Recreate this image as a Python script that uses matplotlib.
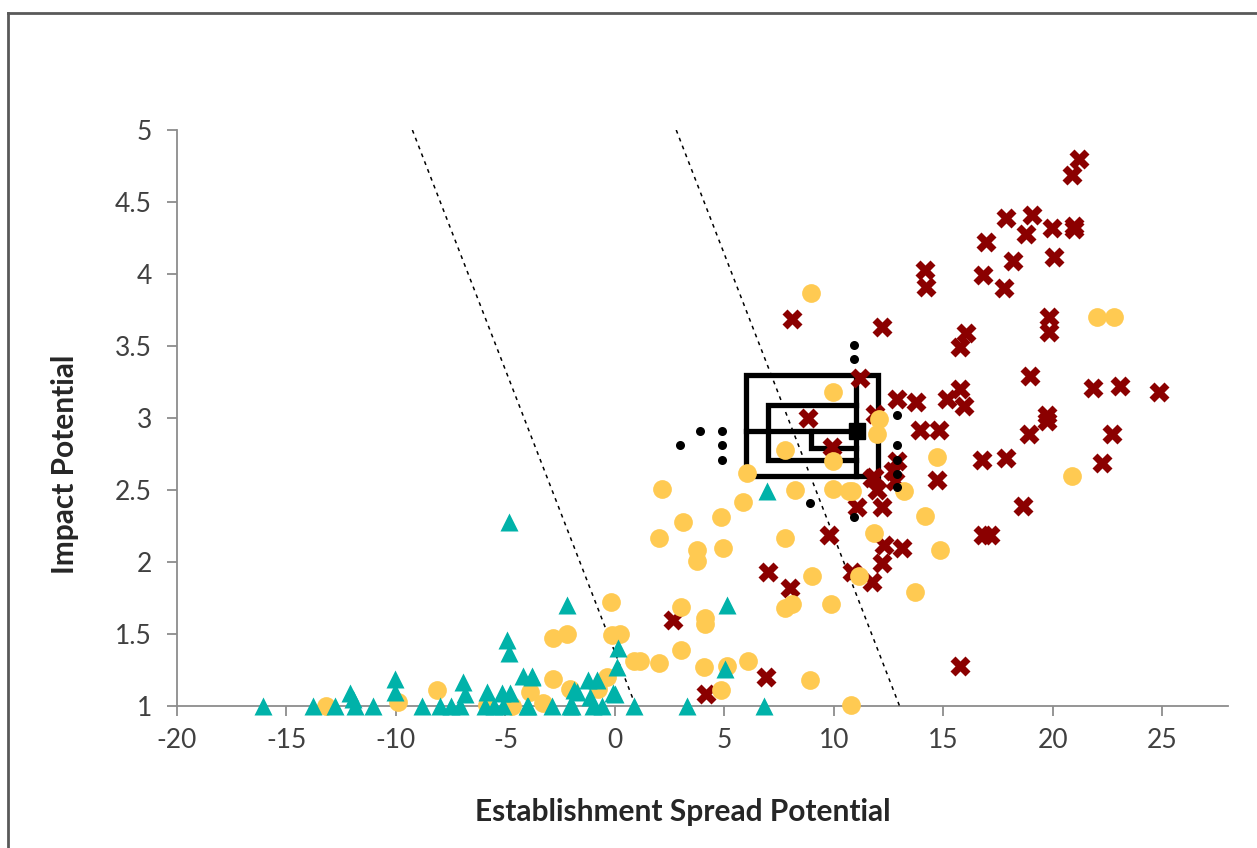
import matplotlib
matplotlib.use("Agg")
import matplotlib.pyplot as plt
from matplotlib.lines import Line2D

plt.rcParams['font.family'] = ['Lato', 'DejaVu Sans']

# ---------------- data ----------------
# red crosses
cross_x = [21.18, 20.87, 17.87, 19.05, 18.79, 19.96, 20.95, 20.95, 16.96, 18.16, 20.07,
           14.17, 14.22, 16.81, 17.78, 12.19, 16.05, 15.77, 19.81, 19.81, 18.97, 21.83,
           23.08, 24.83, 15.77, 15.95, 15.16, 12.88, 13.76, 13.94, 14.78, 19.73, 19.73,
           18.89, 22.70, 22.24, 16.76, 17.87, 14.73, 18.66, 16.81, 17.14, 8.1, 8.84,
           9.91, 11.2, 11.81, 11.89, 12.9, 12.7, 12.8, 11.74, 11.96, 12.19, 11.05, 9.76,
           12.27, 13.11, 12.19, 10.82, 11.74, 6.97, 8.0, 2.67, 6.89, 4.17, 15.77]
cross_y = [4.80, 4.69, 4.39, 4.41, 4.28, 4.32, 4.31, 4.33, 4.22, 4.09, 4.12,
           4.03, 3.91, 3.99, 3.90, 3.63, 3.59, 3.49, 3.70, 3.60, 3.29, 3.21,
           3.22, 3.18, 3.20, 3.08, 3.13, 3.13, 3.11, 2.92, 2.92, 3.02, 2.98,
           2.89, 2.89, 2.69, 2.71, 2.72, 2.57, 2.39, 2.19, 2.19, 3.69, 3.00,
           2.80, 3.28, 2.59, 3.03, 2.70, 2.63, 2.56, 2.58, 2.50, 2.38, 2.38, 2.19,
           2.12, 2.10, 1.99, 1.93, 1.86, 1.93, 1.82, 1.60, 1.20, 1.08, 1.28]

# yellow circles
circle_x = [8.96, 9.98, 7.78, 6.03, 9.98, 11.96, 12.04, 8.23, 9.98, 10.71, 5.87, 4.84,
            3.13, 2.14, 2.03, 3.77, 3.77, 4.93, 7.78, 13.18, 11.81, 14.17, 14.83,
            8.99, 11.17, 13.72, 7.78, 8.08, 9.88, -0.17, 3.03, 4.12, 4.12, -2.84,
            -2.20, -0.14, 0.24, 0.85, 1.15, 2.03, 3.03, 4.05, 5.14, 6.06, 4.84,
            8.89, 10.78, -2.81, -2.05, -3.27, -3.9, -0.37, -13.19, -9.89, -8.14,
            -0.76, -5.85, -4.71, 22.0, 22.78, 14.73, 20.87, 10.82]
circle_y = [3.87, 3.18, 2.78, 2.62, 2.70, 2.89, 2.99, 2.50, 2.51, 2.49, 2.42, 2.31,
            2.28, 2.51, 2.17, 2.08, 2.01, 2.10, 2.17, 2.49, 2.20, 2.32, 2.08,
            1.90, 1.90, 1.79, 1.68, 1.71, 1.71, 1.72, 1.69, 1.61, 1.57, 1.47,
            1.50, 1.49, 1.50, 1.31, 1.31, 1.30, 1.39, 1.27, 1.28, 1.31, 1.11,
            1.18, 1.01, 1.19, 1.12, 1.02, 1.10, 1.20, 1.00, 1.03, 1.11,
            1.12, 1.01, 1.00, 3.70, 3.70, 2.73, 2.60, 2.49]

# teal triangles
tri_x = [-4.86, -4.94, -4.86, -16.08, -13.8, -12.78, -12.1, -11.95, -11.87, -11.03,
         -10.04, -10.04, -8.82, -7.98, -7.5, -6.92, -6.84, -7.07, -5.85, -5.93,
         -5.17, -5.09, -4.79, -4.18, -3.8, -3.95, -2.2, 0.16, 0.09, 0.01, 0.85,
         -0.83, -1.21, -1.74, -1.97, -1.13, -0.98, -2.88, -4.02, 6.94, 5.14, 5.04,
         3.31, 6.79, -0.07, -1.89, -2.05, -3.8, -5.5, -0.6]
tri_y = [2.28, 1.46, 1.37, 1.00, 1.00, 1.00, 1.09, 1.05, 1.00, 1.00,
         1.19, 1.10, 1.00, 1.00, 1.00, 1.17, 1.08, 1.00, 1.10, 1.00,
         1.09, 1.00, 1.09, 1.21, 1.21, 1.00, 1.70, 1.40, 1.27, 1.08, 1.00,
         1.18, 1.18, 1.10, 1.00, 1.06, 1.00, 1.00, 1.00, 2.49, 1.70, 1.26,
         1.00, 1.00, 1.09, 1.11, 1.00, 1.20, 1.00, 1.00]

# black outlier dots
dot_x = [2.95, 3.9, 4.9, 4.9, 4.9, 10.9, 10.9, 12.9, 12.9, 12.9, 12.9, 12.9, 8.9, 10.9]
dot_y = [2.81, 2.91, 2.91, 2.81, 2.71, 3.51, 3.41, 3.02, 2.81, 2.71, 2.61, 2.52, 2.41, 2.31]

# box summary lines
outer_x = [6.0, 12.0]
outer_y = [2.60, 3.30]
inner_x = [7.0, 11.0]
inner_y = [2.71, 3.09]
core_x = [8.95, 11.0]
core_y = [2.79, 2.91]
center_x = [11.05]
center_y = [2.91]

# dashed boundary lines
dash1_x = [-9.25, 0.95]
dash1_y = [5.0, 1.0]
dash2_x = [2.8, 13.0]
dash2_y = [5.0, 1.0]

xticks = [-20, -15, -10, -5, 0, 5, 10, 15, 20, 25]
yticks = [1, 1.5, 2, 2.5, 3, 3.5, 4, 4.5, 5]
ytick_labels = ['1', '1.5', '2', '2.5', '3', '3.5', '4', '4.5', '5']

# ---------------- figure ----------------
fig = plt.figure(figsize=(12.57, 8.48), dpi=100)
ax = fig.add_axes([177/1257, 142/848, 1051/1257, 576/848])

RED = '#8B0000'
YEL = '#FFCA52'
TEAL = '#00B2A9'

ax.plot(dash1_x, dash1_y, color='black', ls=(0, (2.5, 3)), lw=1.1, zorder=1)
ax.plot(dash2_x, dash2_y, color='black', ls=(0, (2.5, 3)), lw=1.1, zorder=1)

blw = 3.8
# outer rectangle
ax.plot([outer_x[0], outer_x[1], outer_x[1], outer_x[0], outer_x[0]],
        [outer_y[0], outer_y[0], outer_y[1], outer_y[1], outer_y[0]],
        color='black', lw=blw, solid_joinstyle='miter', zorder=2)
# vertical line at inner right
ax.plot([inner_x[1], inner_x[1]], [outer_y[0], outer_y[1]], color='black', lw=blw, zorder=2)
# horizontal centre line
ax.plot([outer_x[0], inner_x[1]], [core_y[1], core_y[1]], color='black', lw=blw, zorder=2)
# inner rectangle (open to the right)
ax.plot([inner_x[1], inner_x[0], inner_x[0], inner_x[1]],
        [inner_y[1], inner_y[1], inner_y[0], inner_y[0]],
        color='black', lw=blw, solid_joinstyle='miter', zorder=2)
# core step
ax.plot([core_x[0], core_x[0], core_x[1]], [core_y[1], core_y[0], core_y[0]],
        color='black', lw=blw, solid_joinstyle='miter', zorder=2)

ax.plot(cross_x, cross_y, ls='none', marker='X', ms=14, mfc=RED, mec='none',
        zorder=3, clip_on=False)
ax.plot(circle_x, circle_y, ls='none', marker='o', ms=13.5, mfc=YEL, mec='none',
        zorder=4, clip_on=False)
ax.plot(tri_x, tri_y, ls='none', marker='^', ms=13.5, mfc=TEAL, mec='none',
        zorder=5, clip_on=False)
ax.plot(dot_x, dot_y, ls='none', marker='o', ms=6.5, mfc='black', mec='none', zorder=6)
ax.plot(center_x, center_y, ls='none', marker='s', ms=11, mfc='black', mec='black', zorder=7)

ax.set_xlim(-20, 28)
ax.set_ylim(1, 5)
ax.set_xticks(xticks)
ax.set_xticklabels([str(t) for t in xticks])
ax.set_yticks(yticks)
ax.set_yticklabels(ytick_labels)

for s in ['top', 'right']:
    ax.spines[s].set_visible(False)
for s in ['left', 'bottom']:
    ax.spines[s].set_color('#8c8c8c')
    ax.spines[s].set_linewidth(1.3)
    ax.spines[s].set_zorder(0.5)
ax.tick_params(axis='both', direction='out', length=7, width=1.3, color='#8c8c8c',
               labelsize=19, labelcolor='#404040')
ax.tick_params(axis='x', pad=9)
ax.tick_params(axis='y', pad=11)

ax.set_xlabel('Establishment Spread Potential', fontsize=21.5, fontweight='bold',
              color='#262626')
ax.set_ylabel('Impact Potential', fontsize=21.5, fontweight='bold', color='#262626')
ax.xaxis.set_label_coords(0.481, -0.16)
ax.yaxis.set_label_coords(-0.093, 0.42)

# chart border (left and top edges)
fig.add_artist(Line2D([8/1257, 8/1257], [0, 1 - 13/848], transform=fig.transFigure,
                      color='#595959', lw=2))
fig.add_artist(Line2D([8/1257, 1], [1 - 13/848, 1 - 13/848], transform=fig.transFigure,
                      color='#595959', lw=2))

fig.savefig('out.png', dpi=100)
